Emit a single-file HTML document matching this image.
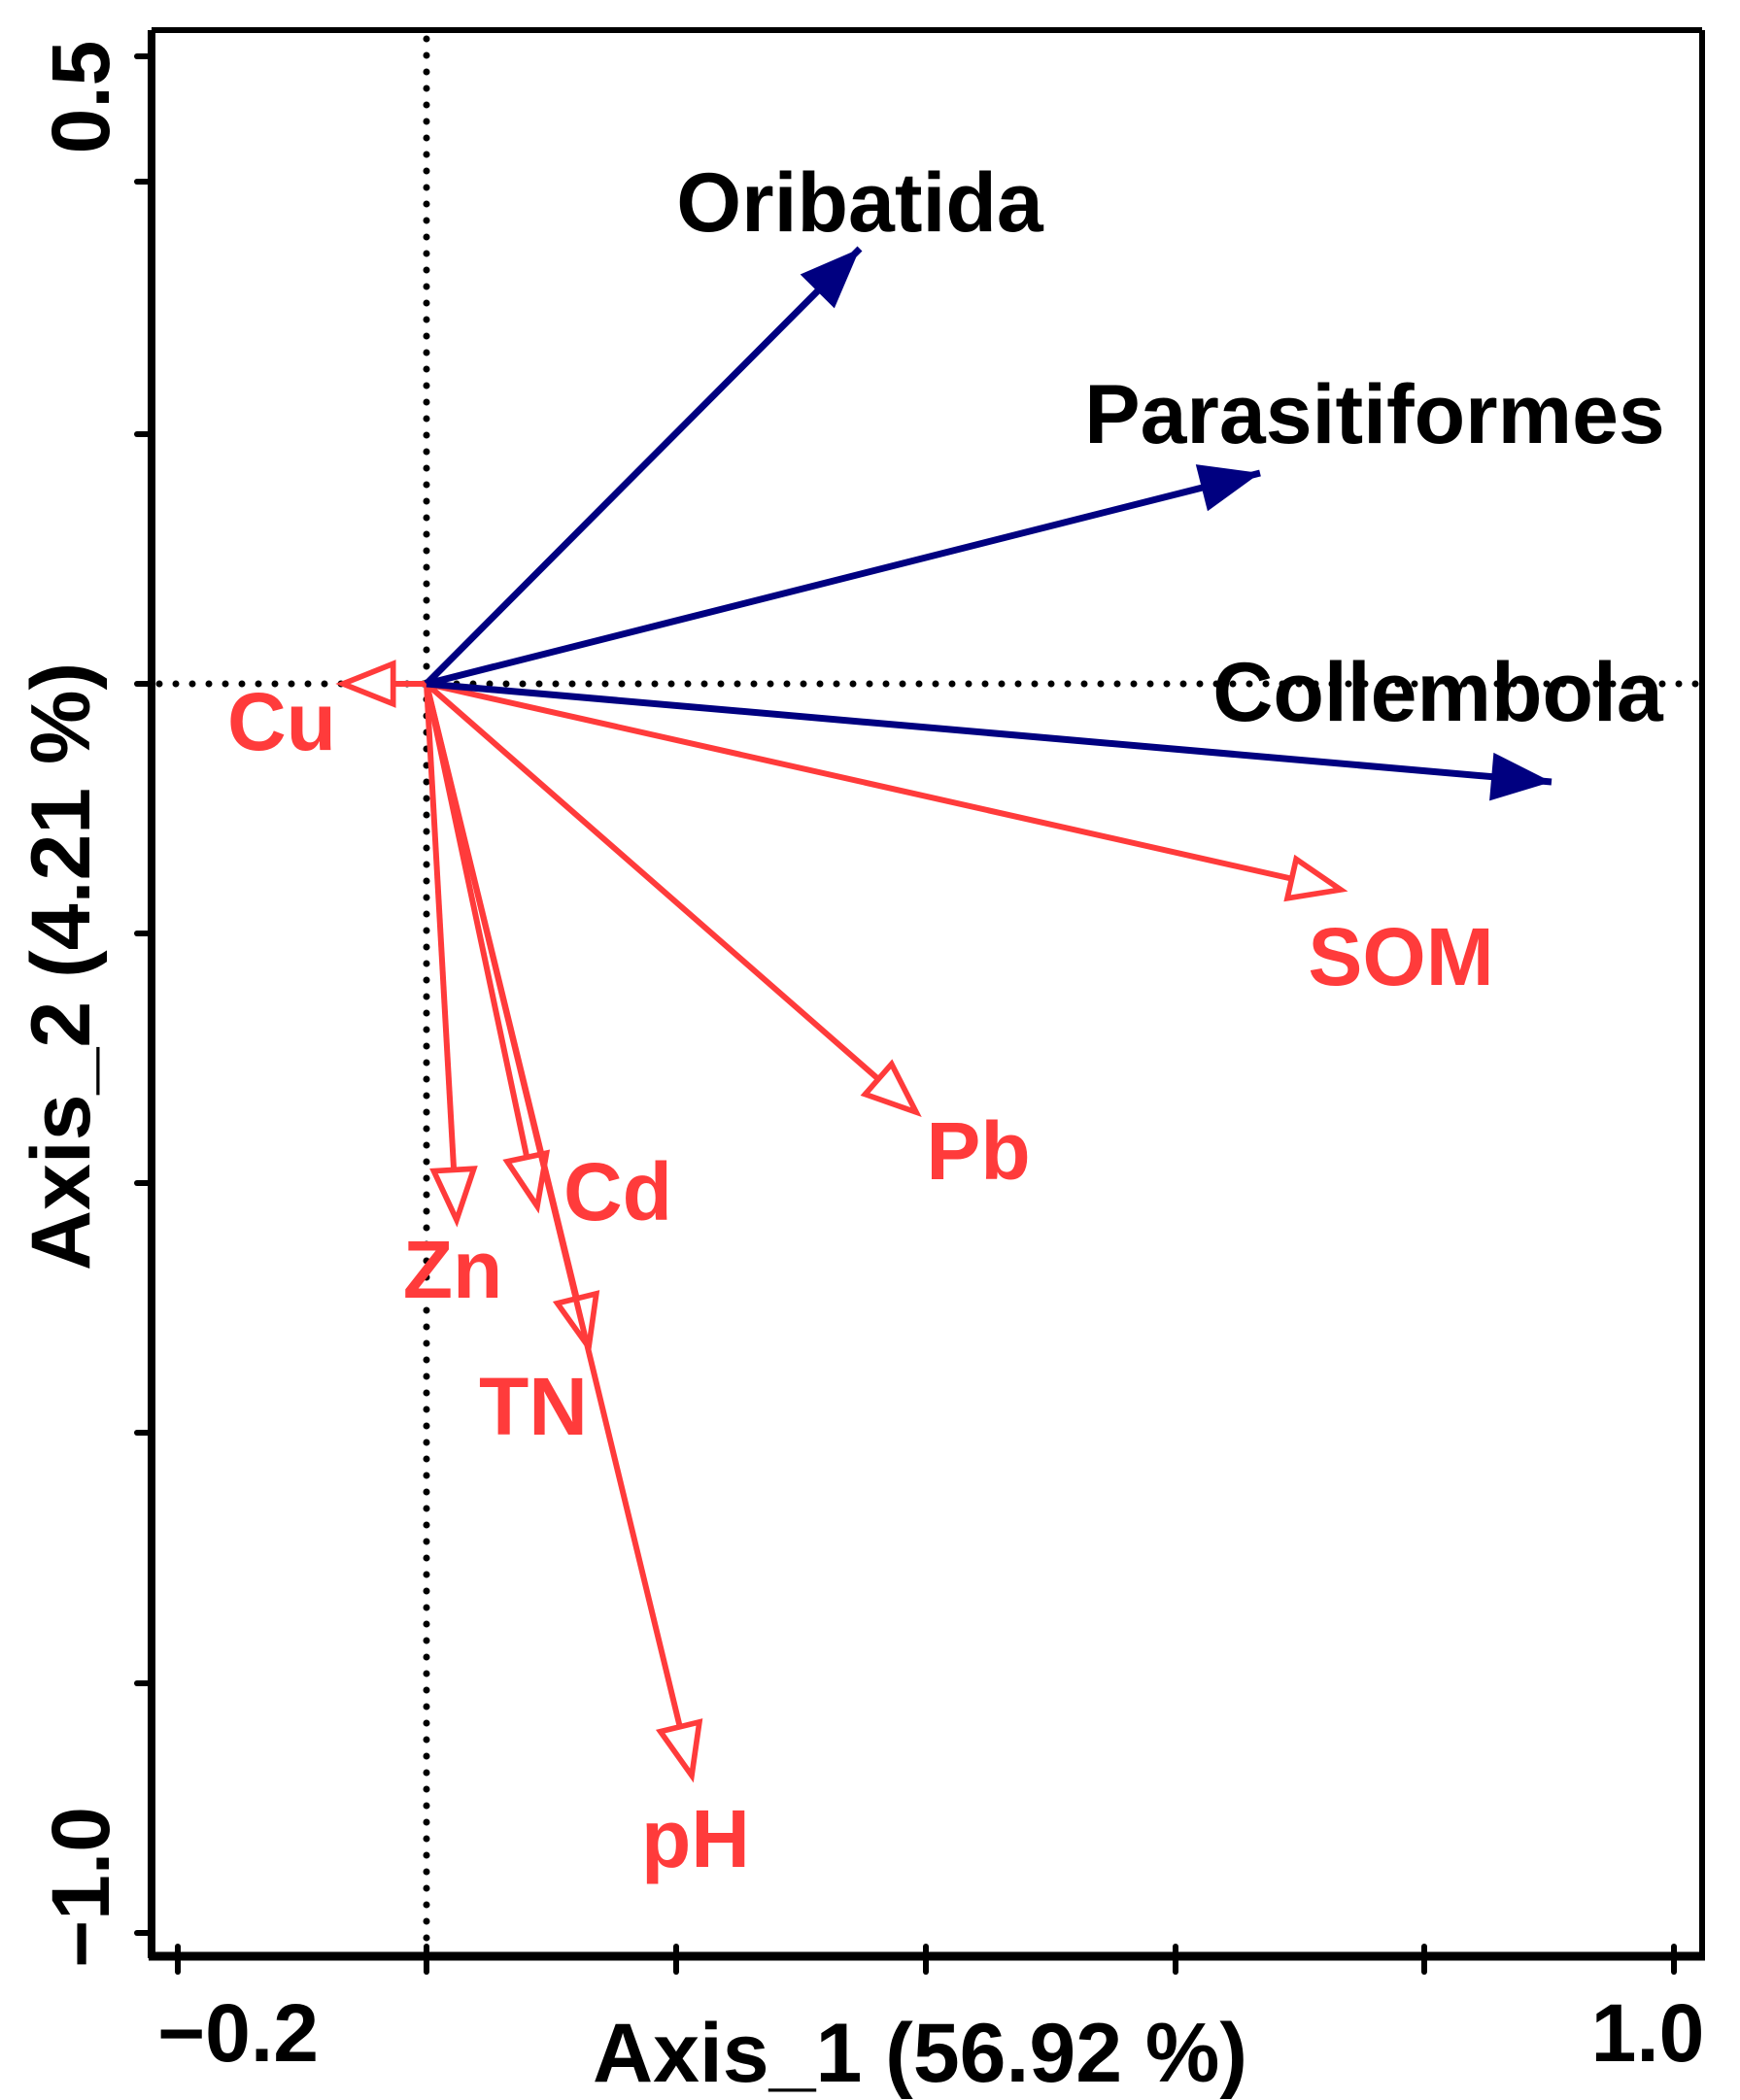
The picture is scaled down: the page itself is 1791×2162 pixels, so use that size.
<!DOCTYPE html>
<html><head><meta charset="utf-8"><style>
html,body{margin:0;padding:0;background:#fff;}
svg{display:block;}
text{font-family:"Liberation Sans",Arial,sans-serif;font-weight:bold;}
</style></head><body>
<svg width="1791" height="2162" viewBox="0 0 1791 2162" xmlns="http://www.w3.org/2000/svg">
<defs>
<marker id="bh" viewBox="0 0 10 10" refX="10" refY="5" markerUnits="userSpaceOnUse" markerWidth="75" markerHeight="62" orient="auto">
<path d="M0,1 L10,5 L0,9 Z" fill="#000080"/>
</marker>
<marker id="rh" viewBox="-1 -1 12 12" refX="10" refY="5" markerUnits="userSpaceOnUse" markerWidth="78" markerHeight="62" orient="auto">
<path d="M0,1 L10,5 L0,9 Z" fill="#fff" stroke="#ff3b3b" stroke-width="1.1"/>
</marker>
</defs>
<g stroke="#000" stroke-width="7" stroke-linecap="round" stroke-dasharray="0 17">
<line x1="439" y1="40" x2="439" y2="2010"/>
<line x1="164" y1="704" x2="1752" y2="704"/>
</g>
<g stroke="#000" fill="none">
<line x1="156" y1="31" x2="1752" y2="31" stroke-width="6"/>
<line x1="1752" y1="31" x2="1752" y2="2016" stroke-width="6"/>
<line x1="156" y1="31" x2="156" y2="2016" stroke-width="8"/>
<line x1="153" y1="2014" x2="1755" y2="2014" stroke-width="9"/>
</g>
<g stroke="#000" stroke-width="6" stroke-linecap="round">
<line x1="141" y1="58" x2="156" y2="58"/>
<line x1="141" y1="187" x2="156" y2="187"/>
<line x1="141" y1="447" x2="156" y2="447"/>
<line x1="141" y1="704" x2="156" y2="704"/>
<line x1="141" y1="961" x2="156" y2="961"/>
<line x1="141" y1="1218" x2="156" y2="1218"/>
<line x1="141" y1="1475" x2="156" y2="1475"/>
<line x1="141" y1="1733" x2="156" y2="1733"/>
<line x1="141" y1="1990" x2="156" y2="1990"/>
<line x1="183" y1="2004" x2="183" y2="2030"/>
<line x1="439" y1="2004" x2="439" y2="2030"/>
<line x1="696" y1="2004" x2="696" y2="2030"/>
<line x1="953" y1="2004" x2="953" y2="2030"/>
<line x1="1210" y1="2004" x2="1210" y2="2030"/>
<line x1="1466" y1="2004" x2="1466" y2="2030"/>
<line x1="1723" y1="2004" x2="1723" y2="2030"/>
</g>
<g font-size="84" fill="#000" text-anchor="middle">
<text x="245" y="2122">−0.2</text>
<text x="1696" y="2122">1.0</text>
<text transform="translate(112,100) rotate(-90)">0.5</text>
<text transform="translate(112,1943) rotate(-90)">−1.0</text>
</g>
<text x="947" y="2143" font-size="86" text-anchor="middle" fill="#000">Axis_1 (56.92 %)</text>
<text transform="translate(92,995) rotate(-90)" font-size="86" text-anchor="middle" fill="#000">Axis_2 (4.21 %)</text>
<g stroke="#ff3b3b" stroke-width="6" fill="none" marker-end="url(#rh)">
<line x1="439" y1="704" x2="353" y2="704"/>
<line x1="439" y1="704" x2="1380" y2="916"/>
<line x1="439" y1="704" x2="943" y2="1145"/>
<line x1="439" y1="704" x2="553" y2="1242"/>
<line x1="439" y1="704" x2="470" y2="1256"/>
<line x1="439" y1="704" x2="606" y2="1387"/>
<line x1="439" y1="704" x2="712" y2="1828"/>
</g>
<g stroke="#000080" stroke-width="7" fill="none" marker-end="url(#bh)">
<line x1="439" y1="704" x2="885" y2="256"/>
<line x1="439" y1="704" x2="1297" y2="487"/>
<line x1="439" y1="704" x2="1597" y2="805"/>
</g>
<g font-size="86" fill="#000" text-anchor="middle">
<text x="885" y="238">Oribatida</text>
<text x="1415" y="456">Parasitiformes</text>
<text x="1480" y="742">Collembola</text>
</g>
<g font-size="84" fill="#ff3b3b" text-anchor="middle">
<text x="290" y="772">Cu</text>
<text x="1442" y="1014">SOM</text>
<text x="1007" y="1214">Pb</text>
<text x="636" y="1256">Cd</text>
<text x="466" y="1336">Zn</text>
<text x="549" y="1477">TN</text>
<text x="716" y="1922">pH</text>
</g>
</svg>
</body></html>
